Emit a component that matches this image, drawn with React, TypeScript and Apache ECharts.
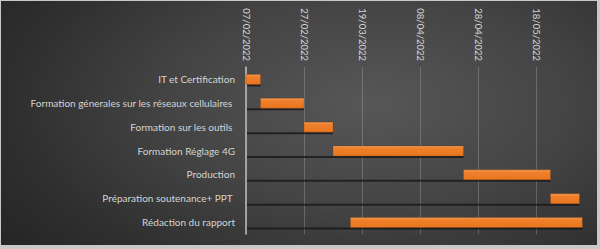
import React, { useEffect, useRef } from "react";
import * as echarts from "echarts";

const tasks = [
  "IT et Certification",
  "Formation génerales sur les réseaux cellulaires ",
  "Formation sur les outils ",
  "Formation Réglage 4G",
  "Production",
  "Préparation soutenance+ PPT ",
  "Rédaction du rapport",
];
const startDates = ["2022-02-07", "2022-02-12", "2022-02-27", "2022-03-09", "2022-04-23", "2022-05-23", "2022-03-15"];
const endDates = ["2022-02-12", "2022-02-27", "2022-03-09", "2022-04-23", "2022-05-23", "2022-06-02", "2022-06-03"];
const tickLabels = ["07/02/2022", "27/02/2022", "19/03/2022", "08/04/2022", "28/04/2022", "18/05/2022"];
const axisStart = "2022-02-07";
const axisEndDays = 116;
const tickDays = 20;

const DAY = 86400000;
const toDays = (d: string) => Math.round((Date.parse(d + "T00:00:00Z") - Date.parse(axisStart + "T00:00:00Z")) / DAY);

export default function App() {
  const ref = useRef<HTMLDivElement>(null);
  useEffect(() => {
    if (!ref.current) return;
    const chart = echarts.init(ref.current, null, { renderer: "svg" });
    const data = tasks.map((t, i) => [i, toDays(startDates[i]), toDays(endDates[i])]);
    const nLines = Math.floor(axisEndDays / tickDays) + 2;
    const splitColors = Array.from({ length: nLines }, (_, i) => (i === nLines - 1 ? "rgba(0,0,0,0)" : "rgba(200,200,200,0.28)"));
    const font = "Lato";
    chart.setOption({
      animation: false,
      backgroundColor: "transparent",
      grid: { left: 246, top: 67, width: axisEndDays * 2.9, height: 167, containLabel: false },
      xAxis: {
        type: "value",
        position: "top",
        min: 0,
        max: axisEndDays,
        interval: tickDays,
        axisLine: { show: false },
        axisTick: { show: false },
        splitLine: { show: true, lineStyle: { color: splitColors, width: 1 } },
        axisLabel: {
          rotate: 90,
          margin: 6,
          color: "#d4d4d4",
          fontFamily: font,
          fontSize: 9.5,
          showMaxLabel: false,
          formatter: (v: number) => tickLabels[Math.round(v / tickDays)] ?? "",
        },
      },
      yAxis: {
        type: "category",
        inverse: true,
        data: tasks,
        axisLine: { show: true, lineStyle: { color: "#bdbdbd", width: 1.5 } },
        axisTick: { show: false },
        axisLabel: { color: "#d4d4d4", fontFamily: font, fontSize: 10, margin: 11 },
      },
      series: [
        {
          type: "custom",
          encode: { x: [1, 2], y: 0 },
          data,
          renderItem: (params: any, api: any) => {
            const cat = api.value(0);
            const s = api.value(1);
            const e = api.value(2);
            const p0 = api.coord([0, cat]);
            const ps = api.coord([s, cat]);
            const pe = api.coord([e, cat]);
            const h = 10;
            const top = ps[1] - h / 2 + 0.5;
            return {
              type: "group",
              children: [
                {
                  type: "rect",
                  shape: { x: p0[0] + 1, y: top + h, width: pe[0] - p0[0] - 1, height: 2 },
                  style: { fill: "rgba(20,20,20,0.75)" },
                },
                {
                  type: "rect",
                  shape: { x: ps[0], y: top, width: pe[0] - ps[0], height: h },
                  style: {
                    fill: new echarts.graphic.LinearGradient(0, 0, 0, 1, [
                      { offset: 0, color: "#f59a52" },
                      { offset: 0.25, color: "#f07f2c" },
                      { offset: 1, color: "#e8761f" },
                    ]),
                    stroke: "rgba(120,50,10,0.5)",
                    lineWidth: 0.5,
                  },
                },
              ],
            };
          },
        },
      ],
    });
    return () => chart.dispose();
  }, []);
  return (
    <div
      style={{
        position: "absolute",
        left: 0,
        top: 0,
        width: 600,
        height: 249,
        background: "#c8c8c8",
      }}
    >
      <div
        style={{
          position: "absolute",
          left: 1,
          top: 1,
          width: 596,
          height: 244,
          background: "radial-gradient(ellipse 75% 95% at 62% 42%, #575757 0%, #444444 45%, #2f2f2f 80%, #262626 100%)",
        }}
      >
        <div ref={ref} style={{ position: "absolute", left: -1, top: -1, width: 600, height: 249 }} />
      </div>
    </div>
  );
}
